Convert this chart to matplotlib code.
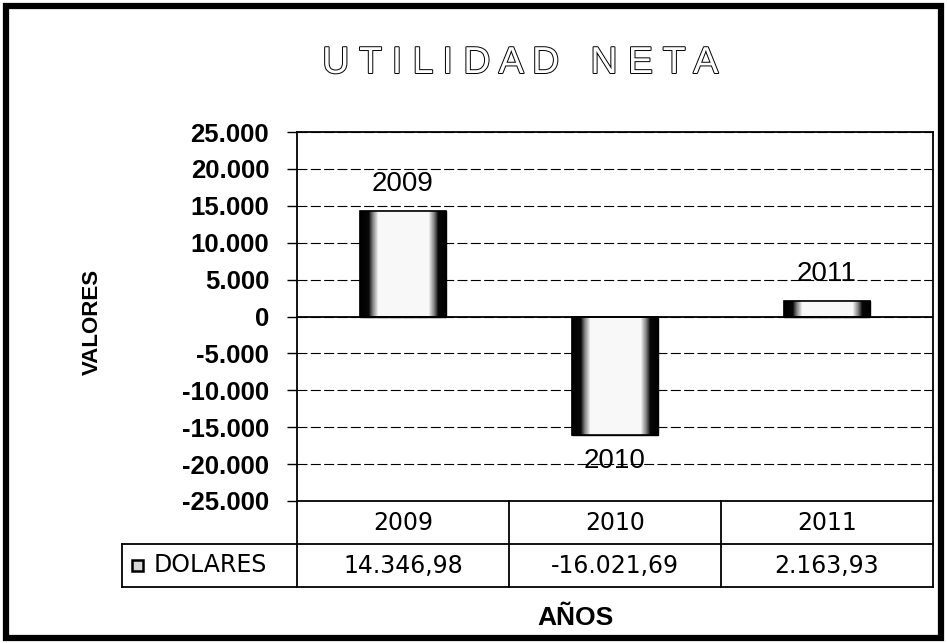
import numpy as np
import matplotlib
matplotlib.use('Agg')
import matplotlib.pyplot as plt
from matplotlib.patches import Rectangle
import matplotlib.patheffects as pe

# ---- data ----
title = 'UTILIDAD NETA'
years = ['2009', '2010', '2011']
dolares = [14346.98, -16021.69, 2163.93]
series_name = 'DOLARES'
y_ticks = [-25000, -20000, -15000, -10000, -5000, 0, 5000, 10000, 15000, 20000, 25000]
x_label = 'AÑOS'
y_label = 'VALORES'


def es_int(v):
    return f"{v:,.0f}".replace(',', '.')


def es_dec(v):
    return f"{v:,.2f}".replace(',', '#').replace('.', ',').replace('#', '.')


plt.rcParams['font.family'] = ['Liberation Sans', 'DejaVu Sans']

W, H = 947, 643
fig = plt.figure(figsize=(W / 100, H / 100), dpi=100)
fig.patch.set_facecolor('white')


def fx(px):
    return px / W


def fy(py):
    return 1 - py / H


# plot area in pixel coordinates
L, R, T, B = 297, 933, 132, 501
ax = fig.add_axes([fx(L), fy(B), (R - L) / W, (B - T) / H])
ax.set_xlim(-0.5, len(years) - 0.5)
ax.set_ylim(min(y_ticks), max(y_ticks))

x = np.arange(len(years))
bars = ax.bar(x, dolares, width=0.41, color='black', edgecolor='black',
              linewidth=1.0, zorder=3)

# cylinder-like shading: dark edges, white centre
t = np.linspace(0, 1, 400)
prof = np.interp(t, [0, 0.1, 0.14, 0.21, 0.79, 0.86, 0.9, 1],
                 [0.0, 0.03, 0.45, 0.97, 0.97, 0.45, 0.03, 0.0])
for b in bars:
    x0, y0 = b.get_xy()
    w, h = b.get_width(), b.get_height()
    im = ax.imshow(np.tile(prof, (2, 1)), cmap='gray', vmin=0, vmax=1,
                   extent=[x0, x0 + w, min(y0, y0 + h), max(y0, y0 + h)],
                   aspect='auto', interpolation='nearest', zorder=3.5)
    im.set_clip_path(b)
    ax.add_patch(Rectangle((x0, y0), w, h, fill=False, edgecolor='black',
                           linewidth=1.2, zorder=4))

ax.set_xlim(-0.5, len(years) - 0.5)
ax.set_ylim(min(y_ticks), max(y_ticks))

ax.yaxis.grid(True, color='black', linestyle=(0, (9, 3)), linewidth=0.8)
ax.set_axisbelow(True)
ax.axhline(0, color='black', linewidth=1.3, zorder=5)
for s in ax.spines.values():
    s.set_color('black')
    s.set_linewidth(1.3)

ax.set_xticks([])
ax.set_yticks(y_ticks)
ax.set_yticklabels([es_int(v) for v in y_ticks], fontsize=18.5, fontweight='bold')
ax.tick_params(axis='y', direction='out', length=7, width=1.0, pad=13, colors='black')

# data labels (year names above / below bars)
for xi, v, yr in zip(x, dolares, years):
    off = 19 if v >= 0 else -19
    ax.annotate(yr, (xi, v), xytext=(0, off), textcoords='offset points',
                ha='center', va='center', fontsize=20, zorder=6)

# ---- data table below the chart ----
TB = 587
leg_left = 122
ppu = (R - L) / len(years)
xl = -0.5 - (L - leg_left) / ppu
tab = fig.add_axes([fx(leg_left), fy(TB), (R - leg_left) / W, (TB - B) / H])
tab.set_xlim(xl, len(years) - 0.5)
tab.set_ylim(0, 2)
tab.axis('off')
lw = 1.3
tab.plot([xl, len(years) - 0.5], [1, 1], color='black', lw=lw, clip_on=False)
tab.plot([xl, len(years) - 0.5], [0, 0], color='black', lw=lw, clip_on=False)
for xv in np.arange(len(years) + 1) - 0.5:
    tab.plot([xv, xv], [0, 2], color='black', lw=lw, clip_on=False)
tab.plot([xl, xl], [0, 1], color='black', lw=lw, clip_on=False)

for xi, yr, v in zip(x, years, dolares):
    tab.text(xi, 1.5, yr, ha='center', va='center', fontsize=17, family='DejaVu Sans')
    tab.text(xi, 0.5, es_dec(v), ha='center', va='center', fontsize=17, family='DejaVu Sans')

# legend key + series name
kw = 11 / ppu
kh = 11 / ((TB - B) / 2)
kx = xl + (132 - leg_left) / ppu
tab.add_patch(Rectangle((kx, 0.5 - kh / 2), kw, kh, facecolor='#d8d8d8',
                        edgecolor='black', linewidth=1.8, clip_on=False))
tab.text(xl + (154 - leg_left) / ppu, 0.5, series_name, ha='left', va='center',
         fontsize=17, family='DejaVu Sans')

# ---- titles ----
fig.text(fx(520), fy(63), ' '.join(title), ha='center', va='center', fontsize=27,
         color='white',
         path_effects=[pe.withStroke(linewidth=1.4, foreground='black')])
fig.text(fx(575), fy(618), x_label, ha='center', va='center', fontsize=19,
         fontweight='bold')
fig.text(fx(92), fy(322), y_label, rotation=90, ha='center', va='center',
         fontsize=16, fontweight='bold')

# outer frame
fig.patches.append(Rectangle((fx(6), fy(638)), (941 - 6) / W, (638 - 6) / H,
                             transform=fig.transFigure, fill=False,
                             linewidth=4.5, edgecolor='black'))

fig.savefig('out.png', dpi=100, facecolor='white')
